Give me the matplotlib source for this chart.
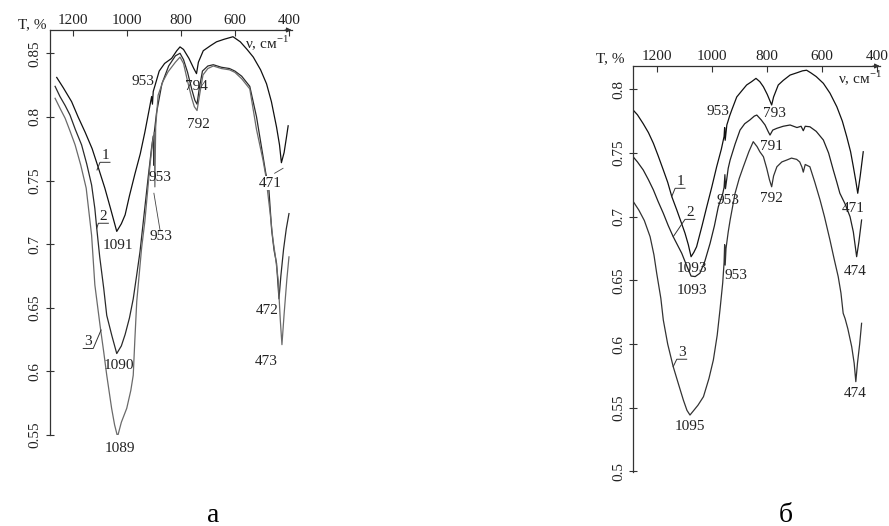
"""IR spectra, two panels (а, б) recreated with matplotlib."""

import matplotlib
import matplotlib.pyplot as plt
from matplotlib.ticker import FuncFormatter

matplotlib.use("Agg")

plt.rcParams["font.family"] = ["Liberation Serif", "DejaVu Serif"]
plt.rcParams["mathtext.fontset"] = "custom"
plt.rcParams["mathtext.rm"] = "Liberation Serif"

# ── Data: panel а ─────────────────────────────────────────────────────────────

A1_NU = [1259, 1235, 1204, 1180, 1154, 1128, 1105, 1081, 1060, 1037, 1020, 1006, 990, 970,
         950, 933, 915, 908, 905, 902, 895, 880, 860, 834, 815, 803, 790, 770, 752, 742, 735,
         717, 690, 668, 640, 607, 580, 555, 532, 505, 483, 465, 446, 435, 428, 418, 410, 403]
A1_T = [0.831, 0.823, 0.812, 0.800, 0.788, 0.775, 0.760, 0.744, 0.728, 0.710, 0.716, 0.723,
        0.738, 0.755, 0.771, 0.788, 0.808, 0.816, 0.810, 0.820, 0.825, 0.836, 0.842, 0.846,
        0.852, 0.855, 0.853, 0.846, 0.838, 0.834, 0.843, 0.852, 0.856, 0.859, 0.861, 0.863,
        0.859, 0.853, 0.847, 0.837, 0.826, 0.812, 0.792, 0.778, 0.764, 0.772, 0.783, 0.793]

A2_NU = [1265, 1247, 1228, 1210, 1190, 1167, 1148, 1130, 1118, 1111, 1100, 1085, 1074, 1055,
         1037, 1020, 1006, 990, 976, 963, 951, 935, 920, 908, 902, 900, 898, 890, 870, 845,
         820, 803, 790, 775, 760, 748, 740, 732, 720, 700, 680, 650, 620, 600, 575, 545, 520,
         496, 486, 475, 464, 455, 446, 437, 430, 420, 410, 400]
A2_T = [0.824, 0.816, 0.809, 0.8015, 0.790, 0.778, 0.763, 0.7465, 0.728, 0.7125, 0.690, 0.665,
        0.644, 0.628, 0.614, 0.620, 0.629, 0.642, 0.657, 0.676, 0.694, 0.725, 0.754, 0.776,
        0.785, 0.762, 0.788, 0.803, 0.826, 0.840, 0.848, 0.850, 0.845, 0.835, 0.822, 0.813,
        0.810, 0.822, 0.836, 0.840, 0.841, 0.839, 0.838, 0.836, 0.832, 0.824, 0.800, 0.769,
        0.756, 0.745, 0.711, 0.695, 0.685, 0.657, 0.675, 0.696, 0.712, 0.724]

A3_NU = [1265, 1245, 1228, 1210, 1191, 1170, 1150, 1130, 1118, 1099, 1085, 1074, 1056, 1045,
         1034, 1020, 1000, 985, 976, 970, 963, 945, 933, 915, 905, 898, 896, 893, 884, 866,
         847, 820, 803, 790, 775, 760, 750, 740, 730, 718, 700, 680, 650, 620, 600, 575, 545,
         520, 496, 486, 470, 459, 450, 440, 432, 426, 418, 408, 400]
A3_T = [0.8146, 0.806, 0.799, 0.789, 0.778, 0.762, 0.744, 0.707, 0.668, 0.6365, 0.615, 0.597,
        0.571, 0.558, 0.5487, 0.560, 0.571, 0.585, 0.597, 0.625, 0.655, 0.697, 0.718, 0.760,
        0.780, 0.788, 0.745, 0.792, 0.817, 0.828, 0.8355, 0.843, 0.847, 0.842, 0.828, 0.815,
        0.808, 0.805, 0.818, 0.833, 0.838, 0.840, 0.838, 0.837, 0.835, 0.830, 0.822, 0.790,
        0.766, 0.754, 0.725, 0.703, 0.690, 0.672, 0.640, 0.621, 0.645, 0.672, 0.690]

A_PEAK_TEXT = ["953", "794", "792", "953", "471", "1091", "953", "1090", "1089", "472", "473"]
A_PEAK_NU = [939, 742, 736, 877, 470, 1034, 873, 1029, 1025, 481, 483]
A_PEAK_T = [0.828, 0.824, 0.794, 0.752, 0.748, 0.699, 0.706, 0.6045, 0.539, 0.6477, 0.6076]

# ── Data: panel б ─────────────────────────────────────────────────────────────

B1_NU = [1291, 1270, 1249, 1230, 1212, 1195, 1176, 1160, 1145, 1127, 1110, 1097, 1085, 1075,
         1065, 1055, 1035, 1018, 1000, 982, 965, 955, 953, 951, 945, 935, 927, 909, 890, 873,
         855, 839, 825, 812, 798, 782, 775, 758, 740, 715, 690, 670, 655, 640, 620, 594, 570,
         545, 525, 509, 495, 485, 476, 469, 460, 449]
B1_T = [0.785, 0.780, 0.773, 0.766, 0.7576, 0.748, 0.7367, 0.727, 0.7157, 0.7053, 0.695, 0.687,
        0.678, 0.6686, 0.672, 0.6764, 0.693, 0.7078, 0.723, 0.7392, 0.753, 0.763, 0.770, 0.760,
        0.772, 0.779, 0.7838, 0.794, 0.799, 0.8034, 0.806, 0.8086, 0.806, 0.802, 0.796, 0.7877,
        0.794, 0.8034, 0.807, 0.8112, 0.813, 0.8145, 0.815, 0.813, 0.810, 0.8047, 0.797,
        0.7863, 0.775, 0.7628, 0.751, 0.7392, 0.728, 0.7184, 0.732, 0.751]

B2_NU = [1291, 1270, 1249, 1230, 1212, 1195, 1176, 1158, 1140, 1125, 1109, 1090, 1075, 1060,
         1043, 1025, 1006, 990, 976, 960, 955, 952, 950, 940, 933, 915, 897, 880, 861, 845,
         836, 820, 806, 795, 788, 778, 763, 740, 715, 690, 675, 667, 660, 643, 620, 594, 575,
         558, 545, 534, 515, 497, 485, 473, 465, 455]
B2_T = [0.7484, 0.743, 0.7367, 0.729, 0.721, 0.712, 0.7027, 0.693, 0.6843, 0.678, 0.6713,
        0.661, 0.6534, 0.653, 0.6556, 0.665, 0.679, 0.693, 0.7078, 0.718, 0.723, 0.733, 0.722,
        0.738, 0.7445, 0.757, 0.768, 0.773, 0.776, 0.779, 0.7798, 0.776, 0.772, 0.767, 0.7641,
        0.768, 0.7694, 0.771, 0.772, 0.770, 0.771, 0.7675, 0.771, 0.7706, 0.767, 0.7602, 0.750,
        0.7367, 0.727, 0.7184, 0.710, 0.700, 0.688, 0.6686, 0.680, 0.6974]

B3_NU = [1285, 1265, 1245, 1224, 1210, 1200, 1185, 1176, 1160, 1140, 1120, 1103, 1090, 1079,
         1065, 1050, 1030, 1010, 994, 980, 970, 960, 955, 953, 951, 948, 940, 933, 915, 900,
         885, 865, 849, 835, 825, 812, 800, 790, 782, 775, 763, 745, 727, 710, 691, 680, 672,
         667, 660, 643, 625, 606, 590, 570, 555, 540, 530, 522, 515, 505, 491, 482, 476, 470,
         462, 455]
B3_T = [0.7118, 0.7052, 0.697, 0.6843, 0.670, 0.6556, 0.636, 0.6189, 0.600, 0.5823, 0.568,
        0.556, 0.548, 0.5443, 0.548, 0.552, 0.5587, 0.573, 0.5875, 0.607, 0.6267, 0.648, 0.664,
        0.678, 0.662, 0.675, 0.688, 0.6974, 0.7184, 0.730, 0.7392, 0.751, 0.7589, 0.755, 0.751,
        0.7471, 0.738, 0.729, 0.7235, 0.732, 0.7392, 0.743, 0.7445, 0.746, 0.745, 0.743, 0.739,
        0.735, 0.741, 0.7392, 0.727, 0.7131, 0.700, 0.6817, 0.667, 0.6529, 0.640, 0.6242, 0.620,
        0.612, 0.598, 0.585, 0.5705, 0.585, 0.600, 0.6163]

B_PEAK_TEXT = ["953", "793", "791", "953", "792", "471", "474", "474", "1093", "1093", "953",
               "1095"]
B_PEAK_NU = [976, 772, 782, 940, 784, 487, 479, 479, 1073, 1073, 912, 1079]
B_PEAK_T = [0.7824, 0.781, 0.7555, 0.7131, 0.7144, 0.7066, 0.6568, 0.5614, 0.6595, 0.6424,
            0.654, 0.535]

CURVE_NUMBERS = ["1", "2", "3"]

# ── Helpers ───────────────────────────────────────────────────────────────────


def setup_axes(ax, xlim, ylim, yticks):
    ax.set_xlim(*xlim)
    ax.set_ylim(*ylim)
    ax.set_xticks([1200, 1000, 800, 600, 400])
    ax.set_yticks(yticks)
    ax.yaxis.set_major_formatter(FuncFormatter(lambda v, _: f"{v:g}"))
    ax.xaxis.tick_top()
    ax.spines[["bottom", "right"]].set_visible(False)
    for s in ("left", "top"):
        ax.spines[s].set_color("#333333")
        ax.spines[s].set_linewidth(0.9)
    ax.tick_params(axis="x", direction="in", length=4, width=0.8, pad=2, labelsize=11,
                   colors="#333333", labelcolor="#222222")
    ax.tick_params(axis="y", direction="inout", length=6, width=0.8, pad=3, labelsize=11,
                   colors="#333333", labelcolor="#222222")
    for lab in ax.get_yticklabels():
        lab.set_rotation(90)
        lab.set_va("center")
    ax.annotate("", xy=(1.01, 1.0), xytext=(0.96, 1.0), xycoords="axes fraction",
                arrowprops=dict(arrowstyle="-|>", lw=0.8, color="#333333",
                                mutation_scale=7), annotation_clip=False)
    ax.patch.set_visible(False)


def peak_labels(ax, texts, nus, ts, masked=()):
    for t, x, y in zip(texts, nus, ts, strict=True):
        box = None
        if (t, x) in masked:
            box = dict(facecolor="white", edgecolor="none", pad=0.3)
        ax.text(x, y, t, ha="center", va="center", fontsize=11, color="#222222", zorder=5,
                bbox=box)


def curve_tag(ax, text, text_xy, line_nu, line_t):
    ax.plot(line_nu, line_t, color="#333333", lw=0.7, zorder=4)
    ax.text(*text_xy, text, ha="center", va="bottom", fontsize=11, color="#222222", zorder=5)


fig = plt.figure(figsize=(8.89, 5.26), dpi=100)

# ── Panel а ───────────────────────────────────────────────────────────────────

ax_a = fig.add_axes([0.0562, 0.1730, 0.2722, 0.7700])
ax_a.plot(A1_NU, A1_T, color="#111111", lw=0.9)
ax_a.plot(A2_NU, A2_T, color="#2a2a2a", lw=0.9)
ax_a.plot(A3_NU, A3_T, color="#6a6a6a", lw=0.9)
setup_axes(ax_a, (1284, 389), (0.55, 0.8683),
           [0.55, 0.6, 0.65, 0.7, 0.75, 0.8, 0.85])
peak_labels(ax_a, A_PEAK_TEXT, A_PEAK_NU, A_PEAK_T, masked=[("471", 470)])
ax_a.plot([453, 422], [0.7557, 0.7596], color="#444444", lw=0.6)
ax_a.plot([877, 899.6], [0.7111, 0.740], color="#444444", lw=0.6)
curve_tag(ax_a, CURVE_NUMBERS[0], (1077, 0.7645), [1110, 1099, 1062], [0.7583, 0.7643, 0.7643])
curve_tag(ax_a, CURVE_NUMBERS[1], (1087, 0.7165), [1111, 1105, 1068], [0.7125, 0.7164, 0.7164])
curve_tag(ax_a, CURVE_NUMBERS[2], (1142, 0.6183), [1095, 1124, 1161], [0.6325, 0.618, 0.618])

fig.text(32 / 889, 1 - 25 / 526, "T, %", ha="center", va="center", fontsize=11,
         color="#222222")
fig.text(267 / 889, 1 - 43 / 526, "ν, см$^{-1}$", ha="center", va="center", fontsize=11,
         color="#222222")
fig.text(213 / 889, 1 - 515 / 526, "а", ha="center", va="center", fontsize=20)

# ── Panel б ───────────────────────────────────────────────────────────────────

ax_b = fig.add_axes([0.7124, 0.1032, 0.2775, 0.7713])
ax_b.plot(B1_NU, B1_T, color="#111111", lw=0.9)
ax_b.plot(B2_NU, B2_T, color="#222222", lw=0.9)
ax_b.plot(B3_NU, B3_T, color="#333333", lw=0.9)
setup_axes(ax_b, (1285, 388), (0.4998, 0.8183),
           [0.5, 0.55, 0.6, 0.65, 0.7, 0.75, 0.8])
peak_labels(ax_b, B_PEAK_TEXT, B_PEAK_NU, B_PEAK_T)
curve_tag(ax_b, CURVE_NUMBERS[0], (1115, 0.7225), [1145.5, 1133, 1097], [0.7157, 0.7223, 0.7223])
curve_tag(ax_b, CURVE_NUMBERS[1], (1079, 0.6981), [1140, 1097, 1061], [0.6843, 0.6979, 0.6979])
curve_tag(ax_b, CURVE_NUMBERS[2], (1109, 0.5883), [1140, 1127, 1091], [0.5823, 0.5881, 0.5881])

fig.text(610 / 889, 1 - 59 / 526, "T, %", ha="center", va="center", fontsize=11,
         color="#222222")
fig.text(860 / 889, 1 - 78 / 526, "ν, см$^{-1}$", ha="center", va="center", fontsize=11,
         color="#222222")
fig.text(786 / 889, 1 - 515 / 526, "б", ha="center", va="center", fontsize=20)

fig.savefig("out.png", dpi=100)
plt.close(fig)
